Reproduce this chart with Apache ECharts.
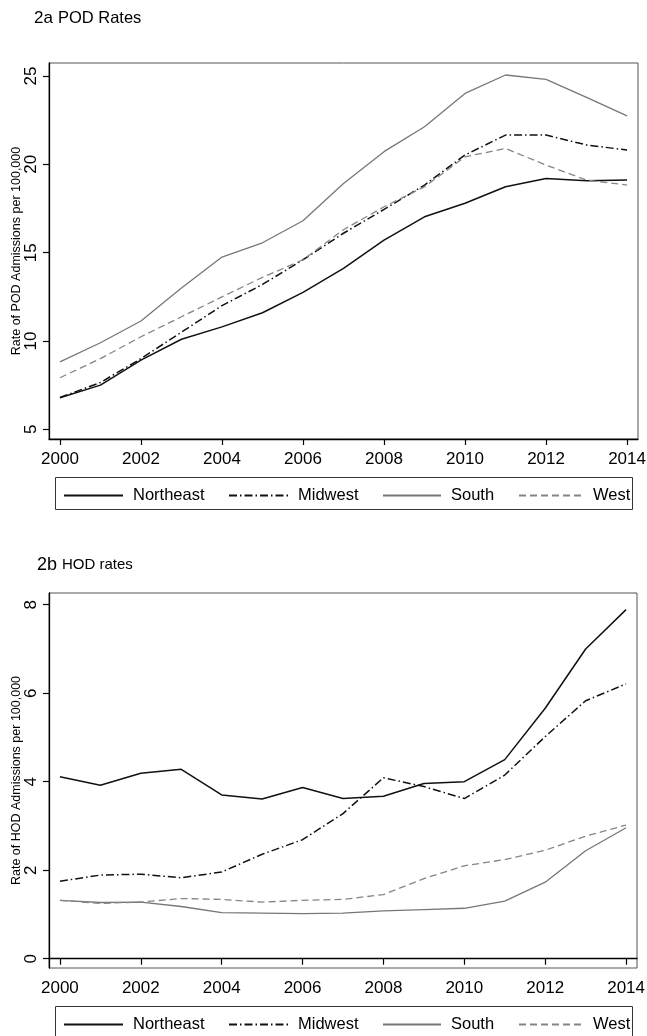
<!DOCTYPE html>
<html>
<head>
<meta charset="utf-8">
<script src="https://cdn.jsdelivr.net/npm/echarts@6/dist/echarts.min.js"></script>
<style>
  html, body { margin: 0; padding: 0; background: #fff; }
  #chart { width: 647px; height: 1036px; }
</style>
</head>
<body>
<div id="chart"></div>
<script>
// years on the x axis
const years = [2000, 2001, 2002, 2003, 2004, 2005, 2006, 2007, 2008, 2009, 2010, 2011, 2012, 2013, 2014];
const yearTicks = [2000, 2002, 2004, 2006, 2008, 2010, 2012, 2014];
const regions = ["Northeast", "Midwest", "South", "West"];

// 2a POD rates per 100,000
const podNortheast = [6.79, 7.5, 8.92, 10.1, 10.8, 11.6, 12.75, 14.11, 15.71, 17.03, 17.8, 18.73, 19.2, 19.07, 19.11];
const podMidwest = [6.8, 7.65, 9.0, 10.5, 12.0, 13.2, 14.6, 16.1, 17.45, 18.83, 20.53, 21.66, 21.66, 21.1, 20.81];
const podSouth = [8.82, 9.9, 11.13, 13.0, 14.75, 15.56, 16.81, 18.92, 20.72, 22.13, 24.02, 25.06, 24.81, 23.79, 22.75];
const podWest = [7.92, 9.0, 10.24, 11.37, 12.5, 13.6, 14.6, 16.3, 17.6, 18.73, 20.43, 20.9, 19.96, 19.11, 18.83];
const podTicks = [5, 10, 15, 20, 25];

// 2b HOD rates per 100,000
const hodNortheast = [4.11, 3.92, 4.19, 4.28, 3.70, 3.61, 3.87, 3.62, 3.67, 3.96, 4.0, 4.5, 5.66, 7.0, 7.89];
const hodMidwest = [1.75, 1.89, 1.91, 1.83, 1.96, 2.36, 2.69, 3.28, 4.09, 3.89, 3.62, 4.15, 5.02, 5.83, 6.21];
const hodSouth = [1.32, 1.27, 1.28, 1.18, 1.04, 1.03, 1.02, 1.03, 1.08, 1.11, 1.14, 1.30, 1.73, 2.44, 2.96];
const hodWest = [1.32, 1.25, 1.28, 1.36, 1.34, 1.28, 1.32, 1.34, 1.45, 1.81, 2.10, 2.24, 2.45, 2.77, 3.02];
const hodTicks = [0, 2, 4, 6, 8];

const FONT = "Liberation Sans, Arial, sans-serif";

const lineStyles = {
  Northeast: { color: "#111", width: 1.5, type: "solid" },
  Midwest: { color: "#111", width: 1.5, type: [8, 3, 1.5, 3] },
  South: { color: "#777", width: 1.3, type: "solid" },
  West: { color: "#858585", width: 1.3, type: [7, 4] }
};

const pairs = (vals) => vals.map((v, i) => [years[i], v]);

const makeSeries = (idx, data) =>
  regions.map((name, k) => ({
    name: name,
    type: "line",
    xAxisIndex: idx,
    yAxisIndex: idx,
    data: pairs(data[k]),
    symbol: "none",
    animation: false,
    lineStyle: lineStyles[name],
    itemStyle: { color: lineStyles[name].color }
  }));

const makeX = (idx) => ({
  gridIndex: idx,
  type: "value",
  min: 1999.73,
  max: 2014.27,
  axisLine: { show: true, lineStyle: { color: "#000", width: 1.3 } },
  axisTick: { show: true, length: 6, customValues: yearTicks, lineStyle: { color: "#000", width: 1.2 } },
  axisLabel: { customValues: yearTicks, fontSize: 17, color: "#000", fontFamily: FONT, margin: 12, formatter: (v) => String(v) },
  splitLine: { show: false }
});

const makeY = (idx, min, max, ticks, name) => ({
  gridIndex: idx,
  type: "value",
  min: min,
  max: max,
  axisLine: { show: true, lineStyle: { color: "#000", width: 1.3 } },
  axisTick: { show: true, length: 6, customValues: ticks, lineStyle: { color: "#000", width: 1.2 } },
  axisLabel: { customValues: ticks, rotate: 90, fontSize: 17, color: "#000", fontFamily: FONT, margin: 9 },
  splitLine: { show: false },
  name: name,
  nameLocation: "middle",
  nameRotate: 90,
  nameGap: 26,
  nameMoveOverlap: false,
  nameTextStyle: { fontSize: 12.5, color: "#000", fontFamily: FONT }
});

// one legend per item so the columns sit where the original puts them
const legendItems = [[63, 59], [228, 59], [382, 58], [518, 64]];
const legendTops = [487, 1016];
const legends = [];
legendTops.forEach((top) => {
  legendItems.forEach((it, k) => {
    legends.push({
      data: [regions[k]],
      left: it[0],
      top: top,
      padding: 0,
      itemWidth: it[1],
      itemHeight: 14,
      selectedMode: false,
      itemStyle: { color: "transparent", borderColor: "transparent", borderWidth: 0 },
      textStyle: { fontSize: 16.5, color: "#000", fontFamily: FONT, padding: [0, 0, 0, 5] }
    });
  });
});

const chart = echarts.init(document.getElementById("chart"), null, { renderer: "canvas" });

chart.setOption({
  backgroundColor: "#fff",
  animation: false,
  title: [
    {
      text: "{a|2a} {b|POD Rates}",
      left: 34,
      top: 9,
      padding: 0,
      textStyle: {
        fontFamily: FONT,
        fontWeight: "normal",
        rich: {
          a: { fontSize: 17, color: "#000", fontFamily: FONT, fontWeight: "normal" },
          b: { fontSize: 16.5, color: "#000", fontFamily: FONT, fontWeight: "normal" }
        }
      }
    },
    {
      text: "{a|2b} {b|HOD rates}",
      left: 37,
      top: 556,
      padding: 0,
      textStyle: {
        fontFamily: FONT,
        fontWeight: "normal",
        rich: {
          a: { fontSize: 18, color: "#000", fontFamily: FONT, fontWeight: "normal" },
          b: { fontSize: 15, color: "#000", fontFamily: FONT, fontWeight: "normal" }
        }
      }
    }
  ],
  grid: [
    { left: 49, top: 63, width: 589, height: 376, outerBoundsMode: "none", containLabel: false, show: true, borderColor: "#555", borderWidth: 1, backgroundColor: "transparent" },
    { left: 49, top: 593, width: 588, height: 375, outerBoundsMode: "none", containLabel: false, show: true, borderColor: "#555", borderWidth: 1, backgroundColor: "transparent" }
  ],
  xAxis: [makeX(0), makeX(1)],
  yAxis: [
    makeY(0, 4.45, 25.74, podTicks, "Rate of POD Admissions per 100,000"),
    makeY(1, -0.21, 8.265, hodTicks, "Rate of HOD Admissions per 100,000")
  ],
  legend: legends,
  graphic: [
    { type: "rect", shape: { x: 55.5, y: 477.5, width: 577, height: 32 }, style: { fill: "none", stroke: "#333", lineWidth: 1 }, silent: true },
    { type: "rect", shape: { x: 55.5, y: 1006.5, width: 577, height: 34 }, style: { fill: "none", stroke: "#333", lineWidth: 1 }, silent: true }
  ],
  series: makeSeries(0, [podNortheast, podMidwest, podSouth, podWest]).concat(
    makeSeries(1, [hodNortheast, hodMidwest, hodSouth, hodWest])
  )
});
</script>
</body>
</html>
